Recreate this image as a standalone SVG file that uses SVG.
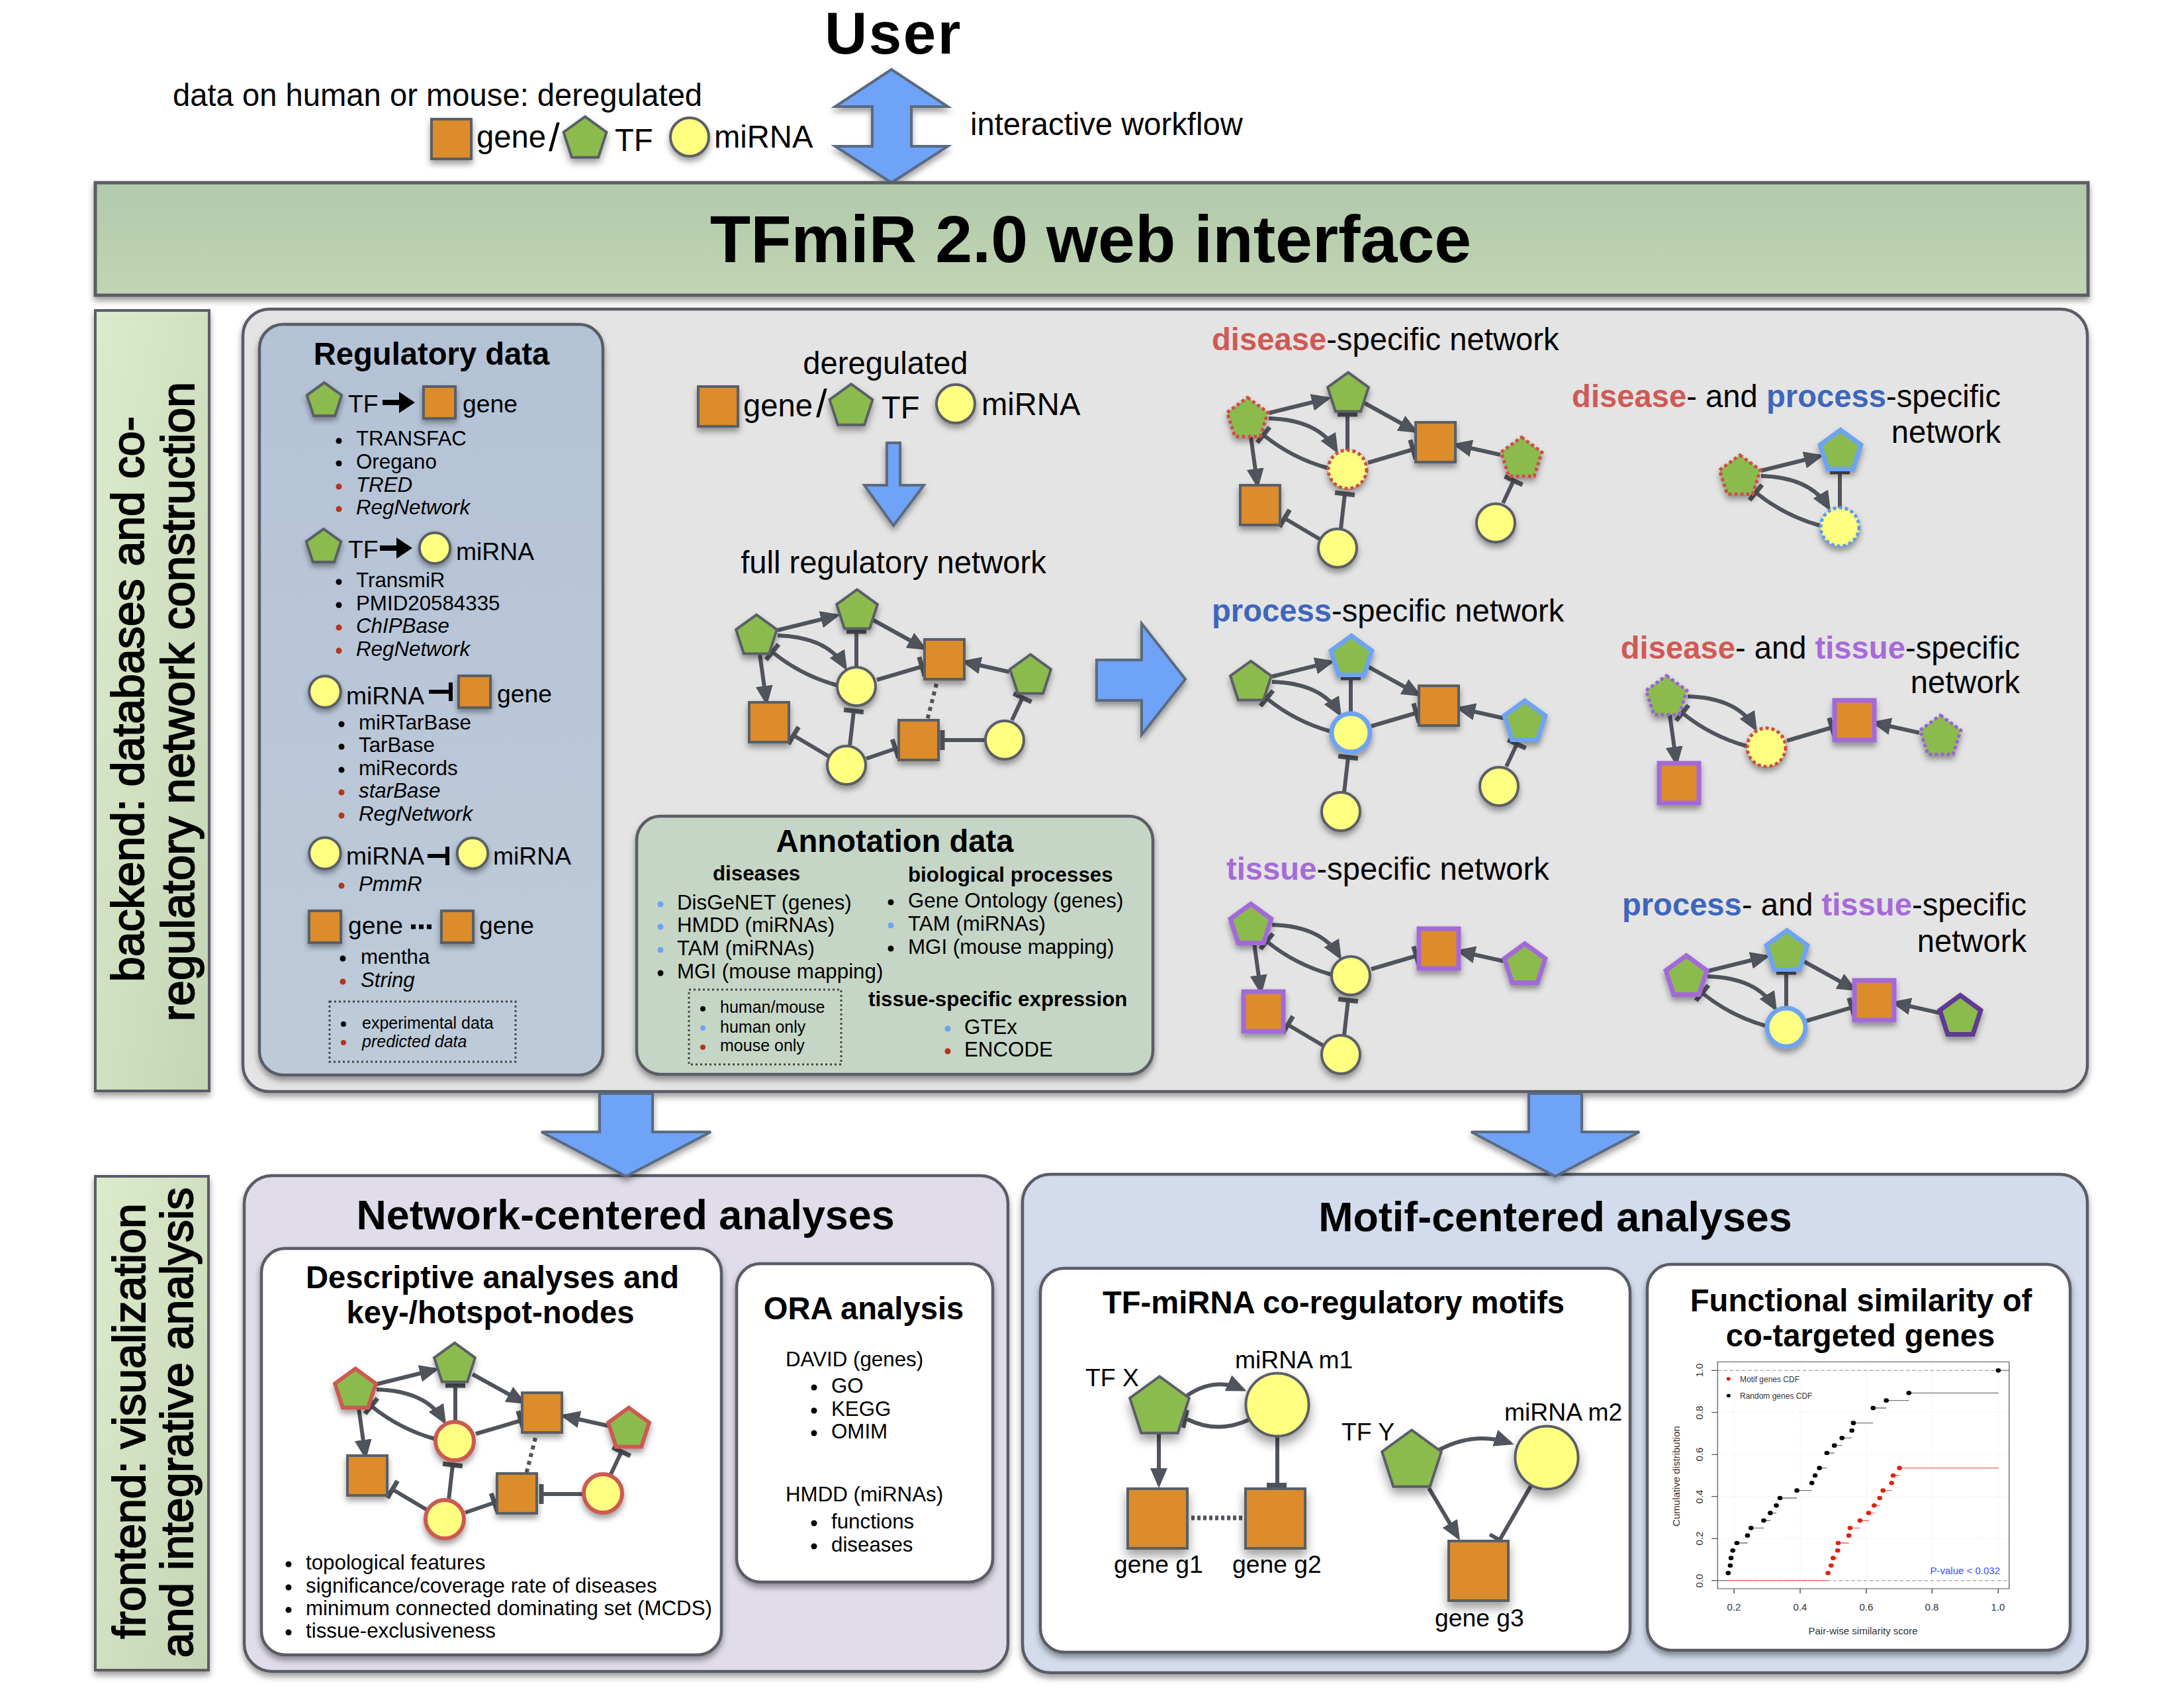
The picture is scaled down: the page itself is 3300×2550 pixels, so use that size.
<svg xmlns="http://www.w3.org/2000/svg" width="3300" height="2550" viewBox="0 0 3300 2550">
<style>
text{font-family:"Liberation Sans",Arial,sans-serif;fill:#000}
.t47{font-size:47.2px}.t37{font-size:37.3px}.t31{font-size:31.3px}.t25{font-size:25px}
.b47{font-size:47.2px;font-weight:bold}.b31{font-size:31.3px;font-weight:bold}.b62{font-size:62.8px;font-weight:bold}
.c{text-anchor:middle}.r{text-anchor:end}.i{font-style:italic}
.side{font-size:68px;stroke:#000;stroke-width:2;text-anchor:middle}
.dis{fill:#cf5a55;font-weight:bold}.pro{fill:#3d66bd;font-weight:bold}.tis{fill:#a66ad9;font-weight:bold}
.shape{vector-effect:non-scaling-stroke}
.n{filter:url(#sh)}
.n use{stroke:#5a5e66;stroke-width:4}
.p{fill:#8cbb4d}.s{fill:#dc8c2b}.m{fill:#ffff80}
.n use.red{stroke:#cb5a52;stroke-width:6}
.n use.rd{stroke:#cc4f48;stroke-width:5;stroke-dasharray:5 4}
.n use.bl{stroke:#6ea3f0;stroke-width:7}
.n use.bd{stroke:#5f9cf0;stroke-width:5;stroke-dasharray:5 4}
.n use.pu{stroke:#a26ad8;stroke-width:7}
.n use.pd{stroke:#9a62d4;stroke-width:5;stroke-dasharray:5 4}
.n use.dp{stroke:#5e3a92;stroke-width:7}
.e{fill:none;stroke:#50545c;stroke-width:6}
.ar{marker-end:url(#arrow)}.tb{marker-end:url(#bar)}
.dot{stroke-dasharray:6 6}
.big{fill:#6ea3f7;stroke:#5a6a80;stroke-width:4;filter:url(#sh)}
.panel{stroke:#5a5d66;stroke-width:4.5;filter:url(#sh)}
.dbox{fill:none;stroke:#444;stroke-width:3;stroke-dasharray:3 4}
.bk{fill:#000}.rb{fill:#b5341a}.bb{fill:#6ea3f0}
.ct{font-size:15px;fill:#333}
</style>
<defs>
<filter id="sh" x="-30%" y="-30%" width="160%" height="160%"><feDropShadow dx="0" dy="6" stdDeviation="5" flood-color="#000" flood-opacity=".38"/></filter>
<linearGradient id="gBar" x1="0" y1="0" x2="0" y2="1"><stop offset="0" stop-color="#b1caab"/><stop offset="1" stop-color="#c1d5b3"/></linearGradient>
<linearGradient id="gSide" x1="0" y1="0" x2="1" y2="1"><stop offset="0" stop-color="#dcebcb"/><stop offset="1" stop-color="#c4d5b5"/></linearGradient>
<linearGradient id="gReg" x1="0" y1="0" x2="0" y2="1"><stop offset="0" stop-color="#b4c2d6"/><stop offset="1" stop-color="#bdcbd9"/></linearGradient>
<marker id="arrow" viewBox="0 -14 30 28" markerWidth="30" markerHeight="28" refX="24" refY="0" orient="auto" markerUnits="userSpaceOnUse"><path d="M0,-13L30,0L0,13Z" fill="#50545c"/></marker>
<marker id="bar" viewBox="-5 -16 10 32" markerWidth="10" markerHeight="32" refX="0" refY="0" orient="auto" markerUnits="userSpaceOnUse"><rect x="-3.5" y="-15" width="7" height="30" fill="#50545c"/></marker>
<polygon id="pn" class="shape" points="0,-29.4 30.9,-6.9 19.1,29.4 -19.1,29.4 -30.9,-6.9"/>
<rect id="sq" class="shape" x="-30" y="-30" width="60" height="60"/>
<circle id="ci" class="shape" r="29"/>
<path id="e1" class="e ar" d="M32,-6L121,-28"/>
<path id="e2" class="e ar" d="M177,-21L253,21"/>
<path id="e3" class="e ar" d="M382,57L315,42"/>
<path id="e4" class="e ar" d="M5,30L15,102"/>
<path id="e5" class="e ar" d="M32,2Q107,4 134,50"/>
<path id="e6" class="e tb" d="M121,77Q67,62 24,27"/>
<path id="e7" class="e tb" d="M151,50L151,-4"/>
<path id="e8" class="e tb" d="M182,69L250,49"/>
<path id="e9" class="e tb" d="M141,169L147,116"/>
<path id="e10" class="e tb" d="M110,185L56,153"/>
<path id="e11" class="e tb" d="M166,188L210,173"/>
<path id="e12" class="e tb" d="M345,160L281,160"/>
<path id="e13" class="e tb" d="M386,130L402,96"/>
<path id="e14" class="e dot" d="M272,75L258,130"/>
</defs>
<rect width="3300" height="2550" fill="#fff"/>

<g id="user"><text x="1350" y="81" class="c" font-size="89" font-weight="bold" letter-spacing="2.5">User</text></g>
<g id="top-legend">
<text x="261" y="160" class="t47">data on human or mouse: deregulated</text>
<g id="top-gene" class="n" transform="translate(682,210)"><use href="#sq" class="s"/></g>
<text x="720" y="223" class="t47">gene</text>
<text x="829" y="228" font-size="60">/</text>
<g id="top-tf" class="n" transform="translate(884,207) scale(1.05)"><use href="#pn" class="p"/></g>
<text x="929" y="228" class="t47">TF</text>
<g id="top-mirna" class="n" transform="translate(1042,207)"><use href="#ci" class="m"/></g>
<text x="1079" y="223" class="t47">miRNA</text>
<text x="1466" y="204" class="t47">interactive workflow</text>
</g>
<polygon id="workflow-arrow" class="big" points="1347,105 1432,161 1377,161 1377,221 1432,221 1347,276 1262,221 1318,221 1318,161 1262,161"/>

<g id="web-interface">
<rect x="144" y="276" width="3011" height="170" fill="url(#gBar)" stroke="#5a5d66" stroke-width="5" filter="url(#sh)"/>
<text x="1648" y="396" class="c" font-size="100.5" font-weight="bold">TFmiR 2.0 web interface</text>
</g>

<g id="lower" transform="translate(0,2)">
<g id="backend-label">
<rect x="144" y="467" width="172" height="1179" fill="url(#gSide)" stroke="#5a5d66" stroke-width="4" filter="url(#sh)"/>
<text transform="translate(217,1054) rotate(-90)" class="side">backend: databases and co-</text>
<text transform="translate(293,1058) rotate(-90)" style="font-size:69.5px" class="side">regulatory network construction</text>
</g>
<g id="frontend-label">
<rect x="144" y="1775" width="171" height="746" fill="url(#gSide)" stroke="#5a5d66" stroke-width="4" filter="url(#sh)"/>
<text transform="translate(219,2145) rotate(-90)" class="side">frontend: visualization</text>
<text transform="translate(291,2147) rotate(-90)" class="side">and integrative analysis</text>
</g>

<rect id="backend-panel" class="panel" x="367" y="465" width="2787" height="1182" rx="40" fill="#e4e4e4"/>

<g id="regulatory-data" transform="translate(0,-2)">
<rect class="panel" x="392" y="490" width="519" height="1134" rx="36" fill="url(#gReg)"/>
<text x="652" y="551" class="b47 c">Regulatory data</text>
<g class="n" transform="translate(490,603) scale(.85)"><use href="#pn" class="p"/></g>
<text x="526" y="623" class="t37">TF</text>
<path d="M578,608H608" stroke="#000" stroke-width="8"/><path d="M603,592L627,608L603,624Z" fill="#000"/>
<g class="n" transform="translate(664,608) scale(.8)"><use href="#sq" class="s"/></g>
<text x="699" y="623" class="t37">gene</text>
<text x="538" y="673" class="t31">TRANSFAC</text><text x="538" y="708" class="t31">Oregano</text><text x="538" y="743" class="t31 i">TRED</text><text x="538" y="777" class="t31 i">RegNetwork</text>
<circle class="bk" cx="512" cy="666" r="4.5"/><circle class="bk" cx="512" cy="700" r="4.5"/><circle class="rb" cx="512" cy="735" r="4.5"/><circle class="rb" cx="512" cy="769" r="4.5"/>

<g class="n" transform="translate(489,824) scale(.85)"><use href="#pn" class="p"/></g>
<text x="526" y="843" class="t37">TF</text>
<path d="M574,828H604" stroke="#000" stroke-width="8"/><path d="M599,812L623,828L599,844Z" fill="#000"/>
<g class="n" transform="translate(657,828) scale(.8)"><use href="#ci" class="m"/></g>
<text x="689" y="846" class="t37">miRNA</text>
<text x="538" y="887" class="t31">TransmiR</text><text x="538" y="922" class="t31">PMID20584335</text><text x="538" y="956" class="t31 i">ChIPBase</text><text x="538" y="991" class="t31 i">RegNetwork</text>
<circle class="bk" cx="512" cy="879" r="4.5"/><circle class="bk" cx="512" cy="914" r="4.5"/><circle class="rb" cx="512" cy="948" r="4.5"/><circle class="rb" cx="512" cy="983" r="4.5"/>

<g class="n" transform="translate(491,1045) scale(.82)"><use href="#ci" class="m"/></g>
<text x="523" y="1064" class="t37">miRNA</text>
<path d="M648,1045H681M681,1031V1059" stroke="#000" stroke-width="6" fill="none"/>
<g class="n" transform="translate(717,1045) scale(.8)"><use href="#sq" class="s"/></g>
<text x="751" y="1061" class="t37">gene</text>
<text x="542" y="1102" class="t31">miRTarBase</text><text x="542" y="1136" class="t31">TarBase</text><text x="542" y="1171" class="t31">miRecords</text><text x="542" y="1205" class="t31 i">starBase</text><text x="542" y="1240" class="t31 i">RegNetwork</text>
<circle class="bk" cx="516" cy="1094" r="4.5"/><circle class="bk" cx="516" cy="1128" r="4.5"/><circle class="bk" cx="516" cy="1163" r="4.5"/><circle class="rb" cx="516" cy="1197" r="4.5"/><circle class="rb" cx="516" cy="1232" r="4.5"/>

<g class="n" transform="translate(491,1289) scale(.82)"><use href="#ci" class="m"/></g>
<text x="523" y="1306" class="t37">miRNA</text>
<path d="M646,1293H676M676,1279V1307" stroke="#000" stroke-width="6" fill="none"/>
<g class="n" transform="translate(714,1289) scale(.8)"><use href="#ci" class="m"/></g>
<text x="745" y="1306" class="t37">miRNA</text>
<text x="542" y="1346" class="t31 i">PmmR</text>
<circle class="rb" cx="516" cy="1338" r="4.5"/>

<g class="n" transform="translate(491,1400) scale(.8)"><use href="#sq" class="s"/></g>
<text x="526" y="1411" class="t37">gene</text>
<path d="M621,1400H652" stroke="#000" stroke-width="7" stroke-dasharray="7 5" fill="none"/>
<g class="n" transform="translate(691,1400) scale(.8)"><use href="#sq" class="s"/></g>
<text x="724" y="1411" class="t37">gene</text>
<text x="545" y="1456" class="t31">mentha</text><text x="545" y="1491" class="t31 i">String</text>
<circle class="bk" cx="518" cy="1448" r="4.5"/><circle class="rb" cx="518" cy="1483" r="4.5"/>

<rect class="dbox" x="498" y="1513" width="281" height="91"/>
<text x="547" y="1554" class="t25">experimental data</text><text x="547" y="1582" class="t25 i">predicted data</text>
<circle class="bk" cx="519" cy="1547" r="4"/><circle class="rb" cx="519" cy="1575" r="4"/>
</g>

<g id="center-legend">
<text x="1338" y="563" class="t47 c">deregulated</text>
<g class="n" transform="translate(1085,612)"><use href="#sq" class="s"/></g>
<text x="1123" y="627" class="t47">gene</text>
<text x="1233" y="628" font-size="60">/</text>
<g class="n" transform="translate(1286,609) scale(1.05)"><use href="#pn" class="p"/></g>
<text x="1332" y="630" class="t47">TF</text>
<g class="n" transform="translate(1444,608)"><use href="#ci" class="m"/></g>
<text x="1483" y="625" class="t47">miRNA</text>
</g>
<polygon id="down-arrow" class="big" points="1340,667 1360,667 1360,731 1396,731 1350,792 1306,731 1340,731"/>
<text x="1350" y="864" class="t47 c">full regulatory network</text>

<g id="full-network" transform="translate(1143,956)">
<g class="connectors"><use href="#e1"/><use href="#e2"/><use href="#e3"/><use href="#e4"/><use href="#e5"/><use href="#e6"/><use href="#e7"/><use href="#e8"/><use href="#e9"/><use href="#e10"/><use href="#e11"/><use href="#e12"/><use href="#e13"/><use href="#e14"/></g>
<g id="full-p1" class="n"><use href="#pn" class="p"/></g>
<g id="full-p2" class="n" transform="translate(152,-38)"><use href="#pn" class="p"/></g>
<g id="full-sa" class="n" transform="translate(284,38)"><use href="#sq" class="s"/></g>
<g id="full-p3" class="n" transform="translate(414,60)"><use href="#pn" class="p"/></g>
<g id="full-c1" class="n" transform="translate(151,79)"><use href="#ci" class="m"/></g>
<g id="full-sb" class="n" transform="translate(19,133)"><use href="#sq" class="s"/></g>
<g id="full-c2" class="n" transform="translate(136,198)"><use href="#ci" class="m"/></g>
<g id="full-sc" class="n" transform="translate(245,160)"><use href="#sq" class="s"/></g>
<g id="full-c3" class="n" transform="translate(375,160)"><use href="#ci" class="m"/></g>
</g>
<polygon id="right-arrow" class="big" points="1657,995 1725,995 1725,940 1791,1024 1725,1108 1725,1056 1657,1056"/>

<g id="annotation-data">
<rect class="panel" x="962" y="1231" width="780" height="390" rx="36" fill="#c6d6c6"/>
<text x="1352" y="1285" class="b47 c">Annotation data</text>
<text x="1077" y="1328" class="b31">diseases</text>
<text x="1023" y="1372" class="t31">DisGeNET (genes)</text><text x="1023" y="1406" class="t31">HMDD (miRNAs)</text><text x="1023" y="1441" class="t31">TAM (miRNAs)</text><text x="1023" y="1476" class="t31">MGI (mouse mapping)</text>
<circle class="bb" cx="998" cy="1364" r="4.5"/><circle class="bb" cx="998" cy="1398" r="4.5"/><circle class="bb" cx="998" cy="1433" r="4.5"/><circle class="bk" cx="998" cy="1468" r="4.5"/>
<text x="1372" y="1330" class="b31">biological processes</text>
<text x="1372" y="1369" class="t31">Gene Ontology (genes)</text><text x="1372" y="1404" class="t31">TAM (miRNAs)</text><text x="1372" y="1439" class="t31">MGI (mouse mapping)</text>
<circle class="bk" cx="1346" cy="1361" r="4.5"/><circle class="bb" cx="1346" cy="1396" r="4.5"/><circle class="bk" cx="1346" cy="1431" r="4.5"/>
<rect class="dbox" x="1041" y="1493" width="230" height="113"/>
<text x="1088" y="1528" class="t25">human/mouse</text><text x="1088" y="1558" class="t25">human only</text><text x="1088" y="1586" class="t25">mouse only</text>
<circle class="bk" cx="1062" cy="1522" r="4"/><circle class="bb" cx="1062" cy="1551" r="4"/><circle class="rb" cx="1062" cy="1580" r="4"/>
<text x="1312" y="1518" class="b31">tissue-specific expression</text>
<text x="1457" y="1560" class="t31">GTEx</text><text x="1457" y="1594" class="t31">ENCODE</text>
<circle class="bb" cx="1432" cy="1552" r="4.5"/><circle class="rb" cx="1432" cy="1586" r="4.5"/>
</g>

<g id="titles">
<text x="1831" y="527" class="t47"><tspan class="dis">disease</tspan>-specific network</text>
<text x="3023" y="613" class="t47 r"><tspan class="dis">disease</tspan>- and <tspan class="pro">process</tspan>-specific</text>
<text x="3023" y="667" class="t47 r">network</text>
<text x="1831" y="937" class="t47"><tspan class="pro">process</tspan>-specific network</text>
<text x="3052" y="993" class="t47 r"><tspan class="dis">disease</tspan>- and <tspan class="tis">tissue</tspan>-specific</text>
<text x="3052" y="1045" class="t47 r">network</text>
<text x="1853" y="1327" class="t47"><tspan class="tis">tissue</tspan>-specific network</text>
<text x="3062" y="1381" class="t47 r"><tspan class="pro">process</tspan>- and <tspan class="tis">tissue</tspan>-specific</text>
<text x="3062" y="1436" class="t47 r">network</text>
</g>

<g id="disease-network" transform="translate(1885,628)">
<g class="connectors"><use href="#e1"/><use href="#e2"/><use href="#e3"/><use href="#e4"/><use href="#e5"/><use href="#e6"/><use href="#e7"/><use href="#e8"/><use href="#e9"/><use href="#e10"/><use href="#e13"/></g>
<g id="dn-p1" class="n"><use href="#pn" class="p rd"/></g>
<g id="dn-p2" class="n" transform="translate(152,-38)"><use href="#pn" class="p"/></g>
<g id="dn-sa" class="n" transform="translate(284,38)"><use href="#sq" class="s"/></g>
<g id="dn-p3" class="n" transform="translate(414,60)"><use href="#pn" class="p rd"/></g>
<g id="dn-c1" class="n" transform="translate(151,79)"><use href="#ci" class="m rd"/></g>
<g id="dn-sb" class="n" transform="translate(19,133)"><use href="#sq" class="s"/></g>
<g id="dn-c2" class="n" transform="translate(136,198)"><use href="#ci" class="m"/></g>
<g id="dn-c3" class="n" transform="translate(375,160)"><use href="#ci" class="m"/></g>
</g>

<g id="process-network" transform="translate(1890,1026)">
<g class="connectors"><use href="#e1"/><use href="#e2"/><use href="#e3"/><use href="#e5"/><use href="#e6"/><use href="#e7"/><use href="#e8"/><use href="#e9"/><use href="#e13"/></g>
<g id="pn-p1" class="n"><use href="#pn" class="p"/></g>
<g id="pn-p2" class="n" transform="translate(152,-38)"><use href="#pn" class="p bl"/></g>
<g id="pn-sa" class="n" transform="translate(284,38)"><use href="#sq" class="s"/></g>
<g id="pn-p3" class="n" transform="translate(414,60)"><use href="#pn" class="p bl"/></g>
<g id="pn-c1" class="n" transform="translate(151,79)"><use href="#ci" class="m bl"/></g>
<g id="pn-c2" class="n" transform="translate(136,198)"><use href="#ci" class="m"/></g>
<g id="pn-c3" class="n" transform="translate(375,160)"><use href="#ci" class="m"/></g>
</g>

<g id="tissue-network" transform="translate(1890,1393)">
<g class="connectors"><use href="#e3"/><use href="#e4"/><use href="#e5"/><use href="#e6"/><use href="#e8"/><use href="#e9"/><use href="#e10"/></g>
<g id="tn-p1" class="n"><use href="#pn" class="p pu"/></g>
<g id="tn-sa" class="n" transform="translate(284,38)"><use href="#sq" class="s pu"/></g>
<g id="tn-p3" class="n" transform="translate(414,60)"><use href="#pn" class="p pu"/></g>
<g id="tn-c1" class="n" transform="translate(151,79)"><use href="#ci" class="m"/></g>
<g id="tn-sb" class="n" transform="translate(19,133)"><use href="#sq" class="s pu"/></g>
<g id="tn-c2" class="n" transform="translate(136,198)"><use href="#ci" class="m"/></g>
</g>

<g id="disease-process-network" transform="translate(2629,715)">
<g class="connectors"><use href="#e1"/><use href="#e5"/><use href="#e6"/><use href="#e7"/></g>
<g id="dp-p1" class="n"><use href="#pn" class="p rd"/></g>
<g id="dp-p2" class="n" transform="translate(152,-38)"><use href="#pn" class="p bl"/></g>
<g id="dp-c1" class="n" transform="translate(151,79)"><use href="#ci" class="m bd"/></g>
</g>

<g id="disease-tissue-network" transform="translate(2518,1048)">
<g class="connectors"><use href="#e3"/><use href="#e4"/><use href="#e5"/><use href="#e6"/><use href="#e8"/></g>
<g id="dt-p1" class="n"><use href="#pn" class="p pd"/></g>
<g id="dt-sa" class="n" transform="translate(284,38)"><use href="#sq" class="s pu"/></g>
<g id="dt-p3" class="n" transform="translate(414,60)"><use href="#pn" class="p pd"/></g>
<g id="dt-c1" class="n" transform="translate(151,79)"><use href="#ci" class="m rd"/></g>
<g id="dt-sb" class="n" transform="translate(19,133)"><use href="#sq" class="s pu"/></g>
</g>

<g id="process-tissue-network" transform="translate(2548,1471)">
<g class="connectors"><use href="#e1"/><use href="#e2"/><use href="#e3"/><use href="#e5"/><use href="#e6"/><use href="#e7"/><use href="#e8"/></g>
<g id="pt-p1" class="n"><use href="#pn" class="p pu"/></g>
<g id="pt-p2" class="n" transform="translate(152,-38)"><use href="#pn" class="p bl"/></g>
<g id="pt-sa" class="n" transform="translate(284,38)"><use href="#sq" class="s pu"/></g>
<g id="pt-p3" class="n" transform="translate(414,60)"><use href="#pn" class="p dp"/></g>
<g id="pt-c1" class="n" transform="translate(151,79)"><use href="#ci" class="m bl"/></g>
</g>

<g id="network-centered">
<rect class="panel" x="369" y="1774" width="1154" height="749" rx="42" fill="#e1dcea"/>
<text x="945" y="1855" class="b62 c">Network-centered analyses</text>
<rect class="panel" x="395" y="1884" width="695" height="614" rx="36" fill="#fff"/>
<text x="744" y="1944" class="b47 c">Descriptive analyses and</text>
<text x="741" y="1997" class="b47 c">key-/hotspot-nodes</text>
<g id="key-network" transform="translate(537,2095)">
<g class="connectors"><use href="#e1"/><use href="#e2"/><use href="#e3"/><use href="#e4"/><use href="#e5"/><use href="#e6"/><use href="#e7"/><use href="#e8"/><use href="#e9"/><use href="#e10"/><use href="#e11"/><use href="#e12"/><use href="#e13"/><use href="#e14"/></g>
<g id="key-p1" class="n"><use href="#pn" class="p red"/></g>
<g id="key-p2" class="n" transform="translate(150,-39)"><use href="#pn" class="p"/></g>
<g id="key-sa" class="n" transform="translate(282,37)"><use href="#sq" class="s"/></g>
<g id="key-p3" class="n" transform="translate(413,59)"><use href="#pn" class="p red"/></g>
<g id="key-c1" class="n" transform="translate(150,80)"><use href="#ci" class="m red"/></g>
<g id="key-sb" class="n" transform="translate(18,132)"><use href="#sq" class="s"/></g>
<g id="key-c2" class="n" transform="translate(135,198)"><use href="#ci" class="m red"/></g>
<g id="key-sc" class="n" transform="translate(244,159)"><use href="#sq" class="s"/></g>
<g id="key-c3" class="n" transform="translate(374,159)"><use href="#ci" class="m red"/></g>
</g>
<text x="462" y="2369" class="t31">topological features</text>
<text x="462" y="2404" class="t31">significance/coverage rate of diseases</text>
<text x="462" y="2438" class="t31">minimum connected dominating set (MCDS)</text>
<text x="462" y="2472" class="t31">tissue-exclusiveness</text>
<circle class="bk" cx="436" cy="2361" r="4.5"/><circle class="bk" cx="436" cy="2396" r="4.5"/><circle class="bk" cx="436" cy="2430" r="4.5"/><circle class="bk" cx="436" cy="2464" r="4.5"/>

<rect class="panel" x="1113" y="1907" width="387" height="481" rx="36" fill="#fff"/>
<text x="1305" y="1991" class="b47 c">ORA analysis</text>
<text x="1187" y="2062" class="t31">DAVID (genes)</text>
<text x="1256" y="2102" class="t31">GO</text><text x="1256" y="2137" class="t31">KEGG</text><text x="1256" y="2171" class="t31">OMIM</text>
<circle class="bk" cx="1230" cy="2094" r="4.5"/><circle class="bk" cx="1230" cy="2129" r="4.5"/><circle class="bk" cx="1230" cy="2163" r="4.5"/>
<text x="1187" y="2266" class="t31">HMDD (miRNAs)</text>
<text x="1256" y="2307" class="t31">functions</text><text x="1256" y="2342" class="t31">diseases</text>
<circle class="bk" cx="1230" cy="2299" r="4.5"/><circle class="bk" cx="1230" cy="2334" r="4.5"/>
</g>

<g id="motif-centered">
<rect class="panel" x="1545" y="1772" width="1609" height="753" rx="42" fill="#d2dcec"/>
<text x="2350" y="1858" class="b62 c">Motif-centered analyses</text>
<rect class="panel" x="1572" y="1914" width="891" height="580" rx="36" fill="#fff"/>
<text x="2015" y="1982" class="b47 c">TF-miRNA co-regulatory motifs</text>
<g id="motif-connectors">
<path class="e" style="marker-end:url(#arrow)" d="M1794,2106Q1835,2078 1878,2097"/>
<path class="e" d="M1889,2142Q1840,2165 1794,2142"/><path class="e" d="M1794,2128L1788,2155"/>
<path class="e" style="marker-end:url(#arrow)" d="M1751,2164V2240"/>
<path class="e" d="M1930,2168V2243"/><path class="e" style="stroke-width:10" d="M1914,2243H1944"/>
<path class="e" style="stroke-dasharray:5 4;stroke-width:7" d="M1800,2291H1880"/>
<path class="e" style="marker-end:url(#arrow)" d="M2175,2188Q2228,2160 2282,2178"/>
<path class="e" style="marker-end:url(#arrow)" d="M2159,2246L2203,2320"/>
<path class="e" d="M2313,2243L2265,2326M2251,2316L2276,2330"/>
</g>
<g id="tf-x" class="n" transform="translate(1752,2120) scale(1.45)"><use href="#pn" class="p"/></g>
<g id="mirna-m1" class="n" transform="translate(1930,2120) scale(1.64)"><use href="#ci" class="m"/></g>
<g id="gene-g1" class="n" transform="translate(1749,2292) scale(1.5)"><use href="#sq" class="s"/></g>
<g id="gene-g2" class="n" transform="translate(1927,2292) scale(1.5)"><use href="#sq" class="s"/></g>
<g id="tf-y" class="n" transform="translate(2133,2201) scale(1.45)"><use href="#pn" class="p"/></g>
<g id="mirna-m2" class="n" transform="translate(2337,2200) scale(1.64)"><use href="#ci" class="m"/></g>
<g id="gene-g3" class="n" transform="translate(2234,2371) scale(1.5)"><use href="#sq" class="s"/></g>
<text x="1640" y="2092" class="t37">TF X</text>
<text x="1866" y="2065" class="t37">miRNA m1</text>
<text x="2027" y="2174" class="t37">TF Y</text>
<text x="2273" y="2144" class="t37">miRNA m2</text>
<text x="1683" y="2374" class="t37">gene g1</text>
<text x="1862" y="2374" class="t37">gene g2</text>
<text x="2168" y="2455" class="t37">gene g3</text>

<rect class="panel" x="2489" y="1908" width="639" height="583" rx="36" fill="#fff"/>
<text x="2812" y="1979" class="b47 c">Functional similarity of</text>
<text x="2811" y="2032" class="b47 c">co-targeted genes</text>
<g id="chart" transform="translate(2500,2038) scale(.3827,.3333)">
<path d="M314,52V1080M575,52V1080M836,52V1080M1096,52V1080M1357,52V1080M249,281H1400M249,472H1400M249,662H1400M249,853H1400" fill="none" stroke="#ddd" stroke-width="3" stroke-dasharray="3 8"/>
<path d="M225,91H1400M225,1043H1400" fill="none" stroke="#888" stroke-width="3" stroke-dasharray="14 10"/>
<rect x="249" y="52" width="1151" height="1028" fill="none" stroke="#777" stroke-width="4"/>
<path d="M314,1080v22M575,1080v22M836,1080v22M1096,1080v22M1357,1080v22M225,91h24M225,281h24M225,472h24M225,662h24M225,853h24M225,1043h24" stroke="#555" stroke-width="4" fill="none"/>
<path d="M250,1043H291M325,873H368M381,805H432M431,771H458M457,737H481M495,669H562M562,635H622M651,533H680M680,465H710M710,431H741M740,397H779M785,329H863M863,261H915M915,227H1004M1004,193H1358M1357,91H1400" fill="none" stroke="#777" stroke-width="4"/>
<path d="M290,1043H685M705,941H723M725,873H768M772,805H812M811,771H846M845,737H868M867,703H889M902,635H937M942,567H967M967,533H1358" fill="none" stroke="#e66a5a" stroke-width="4"/>
<g fill="#000"><circle cx="291" cy="1009" r="10"/><circle cx="299" cy="975" r="10"/><circle cx="302" cy="941" r="10"/><circle cx="309" cy="907" r="10"/><circle cx="325" cy="873" r="10"/><circle cx="367" cy="839" r="10"/><circle cx="381" cy="805" r="10"/><circle cx="431" cy="771" r="10"/><circle cx="457" cy="737" r="10"/><circle cx="481" cy="703" r="10"/><circle cx="495" cy="669" r="10"/><circle cx="562" cy="635" r="10"/><circle cx="621" cy="601" r="10"/><circle cx="634" cy="567" r="10"/><circle cx="651" cy="533" r="10"/><circle cx="680" cy="465" r="10"/><circle cx="710" cy="431" r="10"/><circle cx="740" cy="397" r="10"/><circle cx="779" cy="363" r="10"/><circle cx="785" cy="329" r="10"/><circle cx="863" cy="261" r="10"/><circle cx="915" cy="227" r="10"/><circle cx="1004" cy="193" r="10"/><circle cx="1357" cy="91" r="10"/><circle cx="292" cy="205" r="8"/></g>
<g fill="#e0240c"><circle cx="685" cy="1009" r="10"/><circle cx="697" cy="975" r="10"/><circle cx="705" cy="941" r="10"/><circle cx="723" cy="907" r="10"/><circle cx="725" cy="873" r="10"/><circle cx="767" cy="839" r="10"/><circle cx="772" cy="805" r="10"/><circle cx="811" cy="771" r="10"/><circle cx="845" cy="737" r="10"/><circle cx="867" cy="703" r="10"/><circle cx="889" cy="669" r="10"/><circle cx="902" cy="635" r="10"/><circle cx="936" cy="601" r="10"/><circle cx="942" cy="567" r="10"/><circle cx="967" cy="533" r="10"/><circle cx="292" cy="129" r="8"/></g>
</g>
<text x="2620" y="2431" class="ct c">0.2</text><text x="2720" y="2431" class="ct c">0.4</text><text x="2820" y="2431" class="ct c">0.6</text><text x="2919" y="2431" class="ct c">0.8</text><text x="3019" y="2431" class="ct c">1.0</text>
<text transform="translate(2573,2386) rotate(-90)" class="ct c">0.0</text><text transform="translate(2573,2322) rotate(-90)" class="ct c">0.2</text><text transform="translate(2573,2259) rotate(-90)" class="ct c">0.4</text><text transform="translate(2573,2195) rotate(-90)" class="ct c">0.6</text><text transform="translate(2573,2132) rotate(-90)" class="ct c">0.8</text><text transform="translate(2573,2068) rotate(-90)" class="ct c">1.0</text>
<text transform="translate(2538,2228) rotate(-90)" class="c" font-size="15" style="fill:#333">Cumulative distribution</text>
<text x="2815" y="2467" class="ct c">Pair-wise similarity score</text>
<text x="2629" y="2086" font-size="12" style="fill:#333">Motif genes CDF</text>
<text x="2629" y="2111" font-size="12" style="fill:#333">Random genes CDF</text>
<text x="3022" y="2376" class="r" font-size="15" style="fill:#3b4cff">P-value &lt; 0.032</text>
</g>

<polygon id="down-left" class="big" points="906,1650 986,1650 986,1708 1074,1708 946,1775 818,1708 906,1708"/>
<polygon id="down-right" class="big" points="2310,1650 2390,1650 2390,1708 2477,1708 2350,1775 2223,1708 2310,1708"/>
</g>
</svg>
